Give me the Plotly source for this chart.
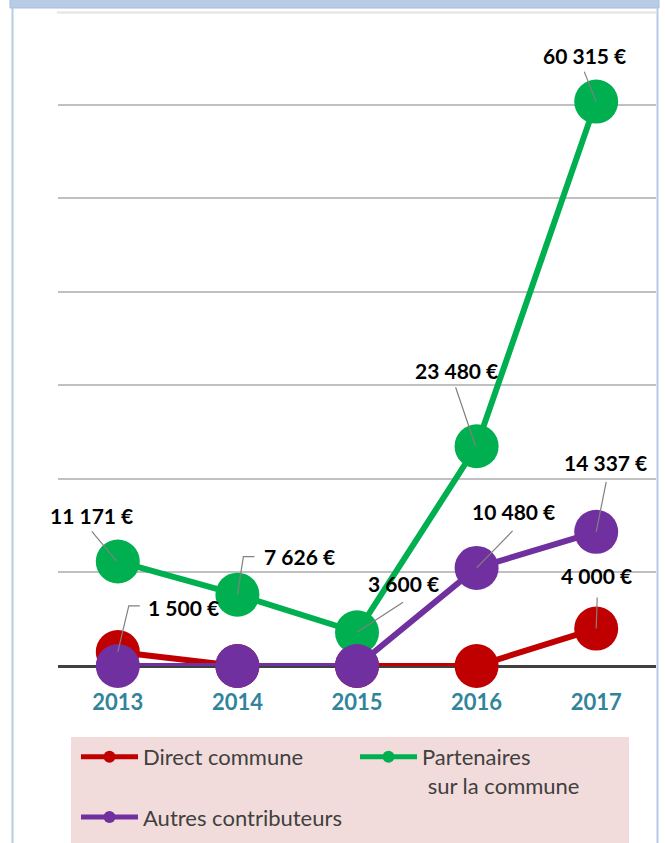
import plotly.graph_objects as go

# ---- data ----
years = ["2013", "2014", "2015", "2016", "2017"]
direct_commune = [1500, 0, 0, 0, 4000]
partenaires = [11171, 7626, 3600, 23480, 60315]
autres = [0, 0, 0, 10480, 14337]

series_names = ["Direct commune", "Partenaires<br>\u00a0sur la commune", "Autres contributeurs"]
series_colors = ["#C00000", "#00B050", "#7030A0"]

# labelled points: (series index, year index)
labelled = [(1, 0), (1, 1), (0, 0), (1, 2), (1, 3), (1, 4), (2, 3), (2, 4), (0, 4)]
# label offsets (px, screen: right/down) and leader paths (px relative to point, screen coords)
label_offsets = [(-26, -46), (62, -38), (66, -44), (46, -49), (-20, -76), (-12, -46), (37, -56), (9, -69), (0, -53)]
leader_paths = [
    [(-26, -30), (-1, 0)],
    [(17, -38), (6, -38), (0, 0)],
    [(22, -46), (11, -46), (0, 0)],
    [(46, -30), (0, 0)],
    [(-21, -59), (-1, 0)],
    [(-12, -30), (0, 0)],
    [(36, -37), (0, 0)],
    [(10, -50), (0, 0)],
    [(1, -31), (0, 0)],
]

all_series = [direct_commune, partenaires, autres]


def fmt(v):
    return f"{v:,}".replace(",", " ") + " €"


fig = go.Figure()
for vals, name, col in zip(all_series, series_names, series_colors):
    fig.add_trace(go.Scatter(
        x=years, y=vals, name=name, mode="lines+markers",
        line=dict(color=col, width=6),
        marker=dict(color=col, size=44),
        cliponaxis=False,
    ))

# plot geometry (for paper-coordinate decorations)
W, H = 665, 843
L, R, T, B = 58, 9, 11, 177
pw, ph = W - L - R, H - T - B


def px(x):
    return (x - L) / pw


def py(y):
    return (H - B - y) / ph


annotations = []
shapes = []
for (si, yi), (dx, dy), path in zip(labelled, label_offsets, leader_paths):
    v = all_series[si][yi]
    annotations.append(dict(
        x=yi, y=v, xref="x", yref="y", text="<b>" + fmt(v) + "</b>",
        showarrow=False, xshift=dx, yshift=-dy,
        font=dict(family="Lato", size=21, color="#000000"),
    ))
    p = "M " + " L ".join(f"{a},{-b}" for a, b in path)
    shapes.append(dict(
        type="path", xref="x", yref="y", xsizemode="pixel", ysizemode="pixel",
        xanchor=yi, yanchor=v, path=p,
        line=dict(color="#808080", width=1.2), layer="above",
    ))

# frame and legend background
shapes += [
    dict(type="rect", xref="paper", yref="paper", x0=px(10), x1=px(659), y0=py(8), y1=py(-2),
         fillcolor="#B8CCE4", line=dict(color="#A7BFDE", width=1), layer="below"),
    dict(type="line", xref="paper", yref="paper", x0=px(12.5), x1=px(12.5), y0=py(8), y1=py(850),
         line=dict(color="#B8CCE4", width=2)),
    dict(type="line", xref="paper", yref="paper", x0=px(657.5), x1=px(657.5), y0=py(8), y1=py(850),
         line=dict(color="#B8CCE4", width=2)),
    dict(type="line", xref="paper", yref="paper", x0=px(57), x1=px(656), y0=py(12.5), y1=py(12.5),
         line=dict(color="#E4E4E4", width=2), layer="below"),
    dict(type="rect", xref="paper", yref="paper", x0=px(71), x1=px(629), y0=py(737), y1=py(850),
         fillcolor="#F2DCDB", line=dict(width=0), layer="below"),
]

fig.update_layout(
    width=W, height=H,
    margin=dict(l=L, r=R, t=T, b=B, autoexpand=False),
    paper_bgcolor="white", plot_bgcolor="white",
    showlegend=True,
    legend=dict(
        orientation="h", x=px(76), y=py(736), xanchor="left", yanchor="top",
        bgcolor="rgba(0,0,0,0)", font=dict(family="Lato", size=22, color="#404040"),
        itemwidth=57, entrywidth=207, entrywidthmode="pixels", itemsizing="constant",
        valign="top", traceorder="normal",
    ),
    xaxis=dict(
        type="category", range=[-0.5, 4.5], showgrid=False, showline=False, ticks="",
        tickfont=dict(family="Lato", size=22, color="#31849B", weight="bold"),
        ticklabelstandoff=21,
    ),
    yaxis=dict(
        range=[0, 70000], dtick=10000, showticklabels=False, showgrid=True,
        gridcolor="#C0C0C0", gridwidth=1.5, zeroline=True, zerolinecolor="#404040",
        zerolinewidth=3, showline=False,
    ),
    annotations=annotations, shapes=shapes,
)

fig.write_html("out.html", config={"displayModeBar": False},
               post_script="document.body.style.margin='0';")
